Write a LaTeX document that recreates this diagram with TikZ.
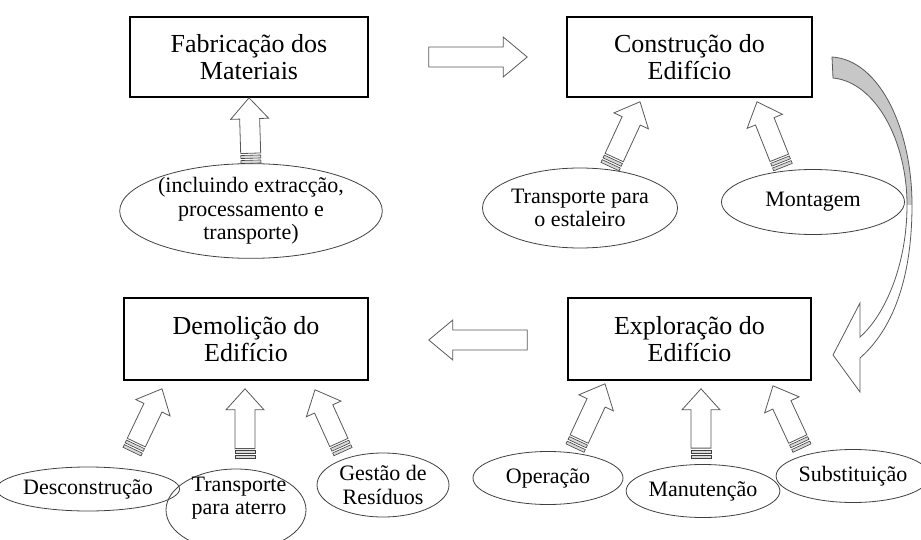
\documentclass[tikz,border=0pt]{standalone}
\usepackage{fontspec}
\setmainfont{Liberation Serif}
\usetikzlibrary{calc,shapes.geometric}

\tikzset{
  etapa/.style={draw=black,line width=1.6pt,minimum width=#1,minimum height=80pt,
    inner sep=0pt,align=center,font=\fontsize{26}{27}\selectfont},
  fase/.style={draw=black!75,line width=0.8pt,ellipse,inner sep=0pt,align=center,
    font=\fontsize{22}{23.5}\selectfont},
  seta/.style={draw=black!65,line width=0.8pt,fill=white},
  faixa/.style={draw=black!75,line width=0.6pt,fill=black!15},
}

% seta de bloco com faixas no pé: #1 pé, #2 ponta
\newcommand{\setalistrada}[2]{%
  \draw[seta] ($(#1)!10pt!(#2)!10pt!90:(#2)$)
    -- ($(#2)!21pt!(#1)!10pt!90:(#2)$) -- ($(#2)!21pt!(#1)!19pt!90:(#2)$)
    -- (#2)
    -- ($(#2)!21pt!(#1)!19pt!-90:(#2)$) -- ($(#2)!21pt!(#1)!10pt!-90:(#2)$)
    -- ($(#1)!10pt!(#2)!10pt!-90:(#2)$) -- cycle;
  \foreach \a/\b in {5pt/8pt,0pt/3pt}
    \draw[faixa] ($(#1)!\a!(#2)!10pt!90:(#2)$) -- ($(#1)!\b!(#2)!10pt!90:(#2)$)
      -- ($(#1)!\b!(#2)!10pt!-90:(#2)$) -- ($(#1)!\a!(#2)!10pt!-90:(#2)$) -- cycle;
}
% seta de bloco simples: #1 pé, #2 ponta
\newcommand{\setabloco}[2]{%
  \draw[seta] ($(#1)!10pt!90:(#2)$)
    -- ($(#2)!24pt!(#1)!10pt!90:(#2)$) -- ($(#2)!24pt!(#1)!20pt!90:(#2)$)
    -- (#2)
    -- ($(#2)!24pt!(#1)!20pt!-90:(#2)$) -- ($(#2)!24pt!(#1)!10pt!-90:(#2)$)
    -- ($(#1)!10pt!-90:(#2)$) -- cycle;
}

\begin{document}
\begin{tikzpicture}[x=1pt,y=-1pt]
  \useasboundingbox (0,0) rectangle (921,540);
  % Etapas do ciclo de vida
  \node[etapa=238pt] (fab) at (249,57) {Fabricação dos\\Materiais};
  \node[etapa=245pt] (constr) at (689.5,57) {Construção do\\Edifício};
  \node[etapa=244pt,minimum height=82pt] (demol) at (246,339) {Demolição do\\Edifício};
  \node[etapa=243pt,minimum height=82pt] (explor) at (689.5,339) {Exploração do\\Edifício};

  % Actividades de cada etapa
  \node[fase,minimum width=240pt,minimum height=93pt] (incl) at (251,211)
    {(incluindo extracção,\\processamento e\\transporte)};
  \node[fase,minimum width=166pt,minimum height=80pt] (estaleiro) at (580,208)
    {Transporte para\\o estaleiro};
  \node[fase,minimum width=183pt,minimum height=65pt] (montagem) at (813,202) {Montagem};
  \node[fase,minimum width=158pt,minimum height=44pt] (descon) at (88,489) {Desconstrução};
  \node[fase,minimum width=140pt,minimum height=82pt] (aterro) at (236,510) {};
  \node[align=center,font=\fontsize{22}{23.5}\selectfont] (aterrotxt)
    at ($(aterro)+(3,-12)$) {Transporte\\para aterro};
  \node[fase,minimum width=132pt,minimum height=64pt] (gestao) at (383,485) {Gestão de\\Resíduos};
  \node[fase,minimum width=150pt,minimum height=53pt] (operacao) at (548,478) {Operação};
  \node[fase,minimum width=150pt,minimum height=53pt] (manut) at (703,491) {Manutenção};
  \node[fase,minimum width=142pt,minimum height=53pt] (subst) at (853,476) {Substituição};

  % Setas com faixas
  \coordinate (pe1) at (incl.north);
  \coordinate (ponta1) at (fab.south);
  \coordinate (pe2) at ($(estaleiro.north)+(30,-1)$);
  \coordinate (ponta2) at ($(constr.south)+(-49.5,4)$);
  \coordinate (pe3) at ($(montagem.north)+(-30,-2)$);
  \coordinate (ponta3) at ($(constr.south)+(67.5,4)$);
  \coordinate (pe4) at ($(descon.north)+(44,-15)$);
  \coordinate (ponta4) at ($(demol.south)+(-84,8)$);
  \coordinate (pe5) at ($(aterro.north)+(9,-10)$);
  \coordinate (ponta5) at ($(demol.south)+(-1,8)$);
  \coordinate (pe6) at ($(gestao.north)+(-40,-1)$);
  \coordinate (ponta6) at ($(demol.south)+(69,9)$);
  \coordinate (pe7) at ($(operacao.north)+(27,-3)$);
  \coordinate (ponta7) at ($(explor.south)+(-84.5,3)$);
  \coordinate (pe8) at ($(manut.north)+(-2,-6)$);
  \coordinate (ponta8) at ($(explor.south)+(11.5,8)$);
  \coordinate (pe9) at ($(subst.north)+(-51,-1)$);
  \coordinate (ponta9) at ($(explor.south)+(83.5,5)$);
  \foreach \i in {1,...,9}
    \setalistrada{pe\i}{ponta\i};

  % Setas horizontais
  \coordinate (hpe1) at ($(fab.east)+(60,0)$);
  \coordinate (hponta1) at ($(constr.west)+(-39,0)$);
  \coordinate (hpe2) at ($(explor.west)+(-40,1)$);
  \coordinate (hponta2) at ($(demol.east)+(60,1)$);
  \setabloco{hpe1}{hponta1};
  \setabloco{hpe2}{hponta2};

  % Seta curva entre a construção e a exploração
  \fill[black!22] (832,57) .. controls (880,60) and (912,130) .. (912,205)
    -- (907,205) .. controls (907,140) and (875,82) .. (833,78) -- cycle;
  \draw[draw=black!65,line width=0.8pt] (832,57) .. controls (880,60) and (912,130) .. (912,205)
    .. controls (912,280) and (892,330) .. (860,358) -- (860,392) -- (833,355) -- (860,303)
    -- (860,337) .. controls (885,315) and (907,265) .. (907,205)
    .. controls (907,140) and (875,82) .. (833,78) -- cycle;
\end{tikzpicture}
\end{document}
